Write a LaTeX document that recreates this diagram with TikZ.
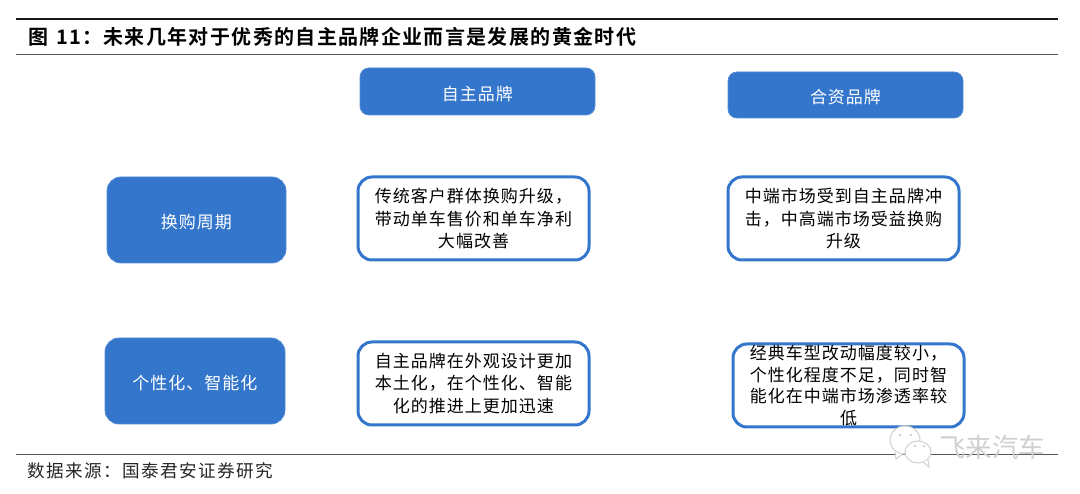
\documentclass[tikz,border=0pt]{standalone}
\usepackage{fontspec}
\setmainfont{Noto Sans CJK SC}
\newfontfamily\bodyface[LetterSpace=5.9]{Noto Sans CJK SC}
\newfontfamily\titleface[LetterSpace=6.8]{Noto Sans CJK SC Bold}
\newfontfamily\sourceface[LetterSpace=8]{Noto Sans CJK SC}
\XeTeXlinebreaklocale "zh"
\definecolor{brandblue}{HTML}{3376CC}
\definecolor{markgray}{HTML}{CFCFCF}
\definecolor{rulegray}{HTML}{555555}
\tikzset{
  px/.style={x=1pt,y=-1pt},
  filledbox/.style={fill=brandblue,draw=brandblue!85!white,line width=0.8pt,rounded corners=#1,text=white,font=\bodyface\fontsize{17}{22.5}\selectfont,inner sep=0pt,align=center,execute at begin node={\rule{0pt}{19pt}}},
  outlinebox/.style={fill=white,draw=brandblue,line width=3pt,rounded corners=14pt,text=black,font=\bodyface\fontsize{17}{22.5}\selectfont,inner sep=0pt,align=center,minimum width=231pt,minimum height=83pt,execute at begin node={\rule{0pt}{19pt}}},
  plaintext/.style={inner sep=0pt,anchor=west,text=black},
  bubble/.style={draw=markgray,fill=white,line width=1pt},
  eye/.style={fill=markgray,inner sep=0pt,minimum size=2.6pt,circle}
}
\begin{document}
\begin{tikzpicture}[px]
\useasboundingbox (0,0) rectangle (1080,494);
% rules
\coordinate (t1) at (16,19); \coordinate (t2) at (1058,19);
\coordinate (m1) at (16,54); \coordinate (m2) at (1058,54);
\coordinate (b1) at (16,454); \coordinate (b2) at (1058,454);
\draw[line width=1.8pt,black!90] (t1) -- (t2);
\draw[line width=0.9pt,rulegray] (m1) -- (m2);
\draw[line width=0.9pt,rulegray] (b1) -- (b2);
% title and source
\node[plaintext,font=\titleface\fontsize{20}{24}\selectfont] (title) at (28,37) {图\hspace{8pt}11：\hspace{1pt}未来几年对于优秀的自主品牌企业而言是发展的黄金时代};
\node[plaintext,font=\sourceface\fontsize{17.6}{22}\selectfont,text=black!85] (source) at (27,471) {数据来源：国泰君安证券研究};
% filled boxes
\node[filledbox=9pt,minimum width=235pt,minimum height=47pt] (own) at (477.5,91.5) {自主品牌};
\node[filledbox=9pt,minimum width=235pt,minimum height=46pt] (jv) at (845.5,95) {合资品牌};
\node[filledbox=14pt,minimum width=179pt,minimum height=86pt] (cycle) at (196.5,220) {换购周期};
\node[filledbox=14pt,minimum width=180pt,minimum height=86pt] (smart) at (195,381) {个性化、智能化};
% outline boxes
\node[outlinebox] (a1) at (473.5,218.5) {传统客户群体换购升级，\\带动单车售价和单车净利\\大幅改善};
\node[outlinebox] (a2) at (843.5,218.5) {中端市场受到自主品牌冲\\击，中高端市场受益换购\\升级};
\node[outlinebox] (b1box) at (473.5,383.5) {自主品牌在外观设计更加\\本土化，在个性化、智能\\化的推进上更加迅速};
\node[outlinebox,font=\bodyface\fontsize{17}{21.7}\selectfont,execute at begin node={\rule{0pt}{22pt}}] (b2box) at (848.5,385.5) {经典车型改动幅度较小，\\个性化程度不足，同时智\\能化在中端市场渗透率较\\低};
% watermark
\draw[bubble] (895,452) -- (896,459) -- (903,454) (905,440) ellipse (15pt and 14pt);
\draw[bubble] (918,452) ellipse (13pt and 11pt);
\draw[bubble] (923,462) -- (929,467) -- (928,460);
\node[eye] (e1) at (900,435) {}; \node[eye] (e2) at (911,435) {};
\node[eye] (e3) at (915,446) {}; \node[eye] (e4) at (924,446) {};
\node[plaintext,text=markgray,font=\fontsize{26.5}{30}\selectfont] (mark) at (939,447) {飞来汽车};
\end{tikzpicture}
\end{document}
